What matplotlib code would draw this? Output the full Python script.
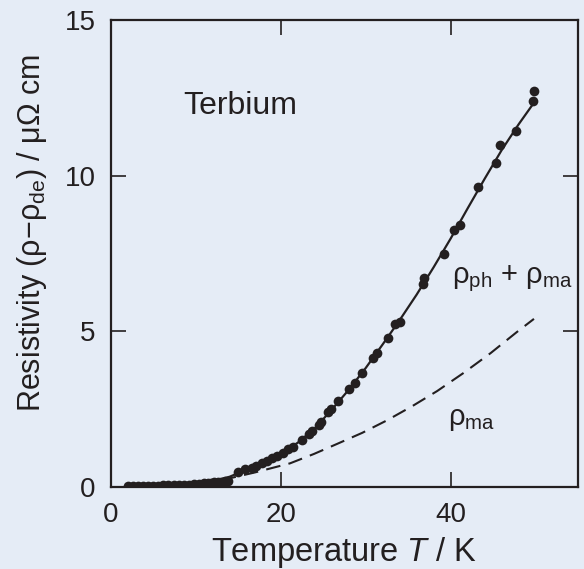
import numpy as np
import matplotlib
matplotlib.use('Agg')
import matplotlib.pyplot as plt

plt.rcParams['font.family'] = ['Liberation Sans', 'DejaVu Sans']
plt.rcParams['mathtext.fontset'] = 'custom'
plt.rcParams['mathtext.rm'] = 'Liberation Sans'
plt.rcParams['mathtext.it'] = 'Liberation Sans:italic'

ink = '#231f20'
bg = '#e5ecf6'

# measured resistivity of terbium (T in K, rho in micro-ohm cm)
T_data = [2.0, 2.6, 3.2, 3.8, 4.4, 5.0, 5.6, 6.2, 6.8, 7.4, 8.0, 8.6, 9.2, 9.8,
          10.4, 11.0, 11.4, 11.8, 12.2, 12.6, 13.0, 13.4, 13.8,
          15.0, 15.8, 16.6, 17.1, 17.8, 18.4, 19.0, 19.6, 20.3, 20.9, 21.4,
          22.5, 23.3, 23.7, 24.5, 24.7, 25.6, 25.9, 26.8, 28.0, 28.7, 29.6,
          30.9, 31.3, 32.6, 33.5, 34.0, 36.7, 36.9, 39.2, 40.4, 41.1, 43.2,
          45.3, 45.8, 47.7, 49.7, 49.8]
rho_data = [0.02, 0.02, 0.03, 0.03, 0.03, 0.04, 0.04, 0.05, 0.05, 0.06, 0.06,
            0.07, 0.08, 0.09, 0.10, 0.12, 0.13, 0.14, 0.15, 0.16, 0.17, 0.18,
            0.18,
            0.49, 0.57, 0.62, 0.67, 0.76, 0.84, 0.92, 1.00, 1.10, 1.21, 1.29,
            1.51, 1.69, 1.80, 1.99, 2.10, 2.42, 2.50, 2.77, 3.14, 3.33, 3.65,
            4.13, 4.31, 4.80, 5.24, 5.31, 6.51, 6.72, 7.47, 8.26, 8.42, 9.62,
            10.40, 11.00, 11.45, 12.41, 12.73]

# fitted phonon + magnon curve
T_fit = [2, 6, 10, 12, 14, 16, 18, 20, 22, 24, 26, 28, 30, 32, 34, 36, 38,
         40, 42, 44, 46, 48, 50]
rho_fit = [0.01, 0.04, 0.11, 0.18, 0.33, 0.56, 0.80, 1.08, 1.42, 1.88, 2.48,
           3.12, 3.82, 4.58, 5.36, 6.18, 7.06, 7.98, 8.95, 9.90, 10.82,
           11.65, 12.42]

# magnon contribution alone
T_ma = [5, 8, 10, 12, 14, 17, 21.1, 23.9, 26.6, 29.6, 32.5, 35.5, 38.4, 41.5,
        44.7, 47.8, 49.8]
rho_ma = [0.03, 0.08, 0.12, 0.18, 0.28, 0.47, 0.76, 1.06, 1.38, 1.74, 2.14,
          2.60, 3.08, 3.66, 4.30, 4.98, 5.40]

fig = plt.figure(figsize=(5.84, 5.69), dpi=100)
fig.patch.set_facecolor(bg)
ax = fig.add_axes([0.1895, 0.1441, 0.8005, 0.8208])
ax.set_facecolor('none')

ax.plot(T_fit, rho_fit, color=ink, lw=1.6, zorder=2)
ax.plot(T_ma, rho_ma, color=ink, lw=1.5, dashes=(7, 4), zorder=2)
ax.plot(T_data, rho_data, 'o', color=ink, ms=7, mec='none', zorder=3)

ax.set_xlim(0, 55)
ax.set_ylim(0, 15)
ax.set_xticks([0, 20, 40])
ax.set_yticks([0, 5, 10, 15])

for s in ax.spines.values():
    s.set_linewidth(1.6)
    s.set_color(ink)
ax.tick_params(direction='in', length=11, width=1.2, color=ink,
               top=True, right=True, labelsize=20, labelcolor=ink, pad=11)
# hide the tick marks that sit on the frame corners
for t in ax.xaxis.get_major_ticks()[:1] + ax.yaxis.get_major_ticks()[::3]:
    t.tick1line.set_visible(False)
    t.tick2line.set_visible(False)

ax.set_xlabel('Temperature $T$ / K', fontsize=23.5, color=ink)
ax.xaxis.set_label_coords(0.5, -0.102)
ax.set_ylabel(r'Resistivity (ρ−ρ$_{\rm de}$) / μΩ cm', fontsize=22, color=ink)
ax.yaxis.set_label_coords(-0.131, 0.544)

ax.text(8.5, 12.25, 'Terbium', fontsize=23, color=ink, va='center', ha='left')
ax.text(40.1, 6.7, r'ρ$_{\rm ph}$ + ρ$_{\rm ma}$', fontsize=21, color=ink,
        va='center', ha='left')
ax.text(39.7, 2.2, r'ρ$_{\rm ma}$', fontsize=21, color=ink,
        va='center', ha='left')

fig.savefig('out.png', dpi=100, facecolor=bg)
